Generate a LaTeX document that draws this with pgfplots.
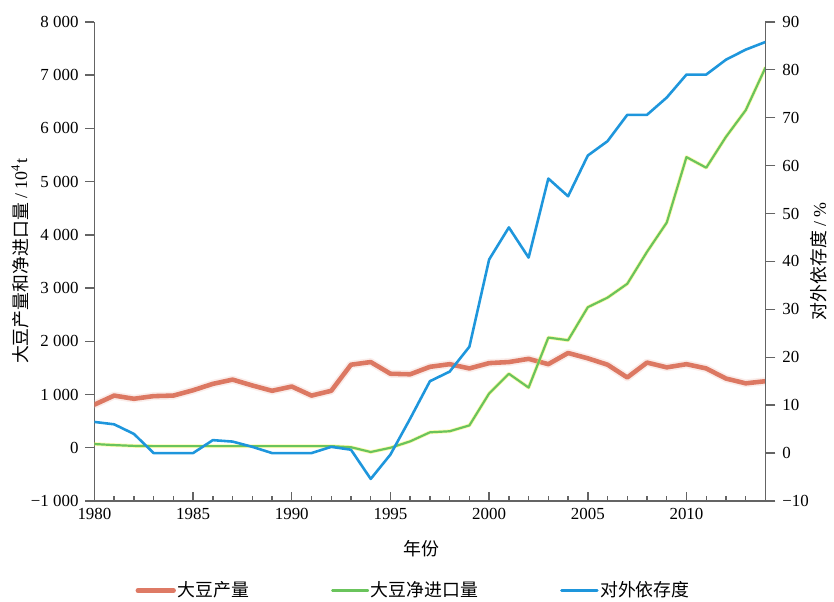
\documentclass[border=0pt]{standalone}
\usepackage{fontspec}
\setmainfont{Liberation Serif}
\newfontfamily\cjk{Noto Sans CJK SC}
\usepackage{pgfplots}
\usepackage{pgfplotstable}
\pgfplotsset{compat=1.18}

\definecolor{prodred}{RGB}{218,108,84}
\definecolor{impgreen}{RGB}{106,196,92}
\definecolor{depblue}{RGB}{30,150,220}
\definecolor{axgray}{RGB}{100,100,100}

% year, production (10^4 t), net import (10^4 t), dependency (%)
\pgfplotstableread{
year prod imp dep
1980  810   70   6.5
1981  980   50   6.0
1982  920   35   4.0
1983  970   30   0.0
1984  980   30   0.0
1985 1080   30   0.0
1986 1200   30   2.7
1987 1280   30   2.4
1988 1170   30   1.3
1989 1070   30   0.0
1990 1150   30   0.0
1991  980   30   0.0
1992 1070   30   1.3
1993 1560   10   0.7
1994 1610  -80  -5.4
1995 1390    0  -0.3
1996 1380  120   7.2
1997 1520  290  15.0
1998 1570  310  17.0
1999 1490  420  22.2
2000 1590 1020  40.4
2001 1610 1390  47.1
2002 1670 1130  40.8
2003 1570 2070  57.3
2004 1780 2020  53.6
2005 1680 2640  62.1
2006 1560 2820  65.1
2007 1320 3080  70.6
2008 1600 3680  70.6
2009 1510 4230  74.2
2010 1570 5460  79.0
2011 1490 5260  79.0
2012 1300 5840  82.1
2013 1210 6340  84.2
2014 1250 7140  85.8
}\soydata

\pgfplotsset{
  base/.style={
    scale only axis, width=337.5bp, height=241bp,
    xmin=1980, xmax=2014,
    axis line style={axgray, line width=0.8bp},
    every tick/.style={axgray, line width=0.7bp},
    tick label style={font=\fontsize{8.5bp}{10bp}\selectfont},
    label style={font=\fontsize{9bp}{10bp}\selectfont},
    every axis plot/.append style={line join=round, line cap=round},
  },
}

\begin{document}
\begin{tikzpicture}
\begin{axis}[base, name=ax,
  axis x line*=bottom, axis y line*=left,
  ymin=-1000, ymax=8000,
  xtick={1980,1985,1990,1995,2000,2005,2010},
  xticklabels={1980,1985,1990,1995,2000,2005,2010},
  minor xtick={1980,1981,...,2014},
  xtick align=inside, ytick align=outside,
  major tick length=4.5bp, minor tick length=2.5bp,
  ytick={-1000,0,1000,2000,3000,4000,5000,6000,7000,8000},
  yticklabels={−1 000,0,1 000,2 000,3 000,4 000,5 000,6 000,7 000,8 000},
  xlabel={\cjk 年份},
  xlabel style={at={(axis description cs:0.487,-0.0996)}, anchor=center},
  ylabel={{\cjk 大豆产量和净进口量} / 10\textsuperscript{4}t},
  ylabel style={at={(axis description cs:-0.111,0.5)}, anchor=center},
]
% soft halo under the production line
\addplot[prodred!35, line width=4bp, opacity=0.35] table[x=year, y=prod]{\soydata};
\addplot[prodred, line width=2.3bp, opacity=0.9] table[x=year, y=prod]{\soydata};
% yellowish halo under the import line
\addplot[yellow!70!white, line width=1.9bp, opacity=0.45] table[x=year, y=imp]{\soydata};
\addplot[impgreen, line width=1.1bp] table[x=year, y=imp]{\soydata};
\end{axis}

\begin{axis}[base, name=ax2,
  axis x line=none, axis y line*=right,
  ymin=-10, ymax=90,
  ytick={-10,0,10,20,30,40,50,60,70,80,90},
  yticklabels={−10,0,10,20,30,40,50,60,70,80,90},
  ytick align=outside, major tick length=5bp,
  ylabel={{\cjk 对外依存度} / \%},
  ylabel style={at={(axis description cs:1.08,0.5)}, anchor=center},
  legend columns=-1,
  legend image code/.code={\draw[#1] (0bp,0bp) -- (18bp,0bp);},
  legend style={at={(axis description cs:0.0607,-0.187)}, anchor=west,
    draw=none, fill=none, inner sep=0pt,
    font=\cjk\fontsize{9bp}{10bp}\selectfont,
    nodes={inner sep=0.8bp},
    /tikz/every even column/.append style={column sep=40.5bp}},
]
\addlegendimage{prodred, line width=2.3bp, opacity=0.9}
\addlegendentry{大豆产量}
\addlegendimage{impgreen, line width=1.1bp}
\addlegendentry{大豆净进口量}
\addplot[depblue, line width=1.3bp] table[x=year, y=dep]{\soydata};
\addlegendentry{对外依存度}
\end{axis}
\path (ax.south west) ++(-47.5bp,-49bp) rectangle ++(417bp,301bp);
\end{tikzpicture}
\end{document}
